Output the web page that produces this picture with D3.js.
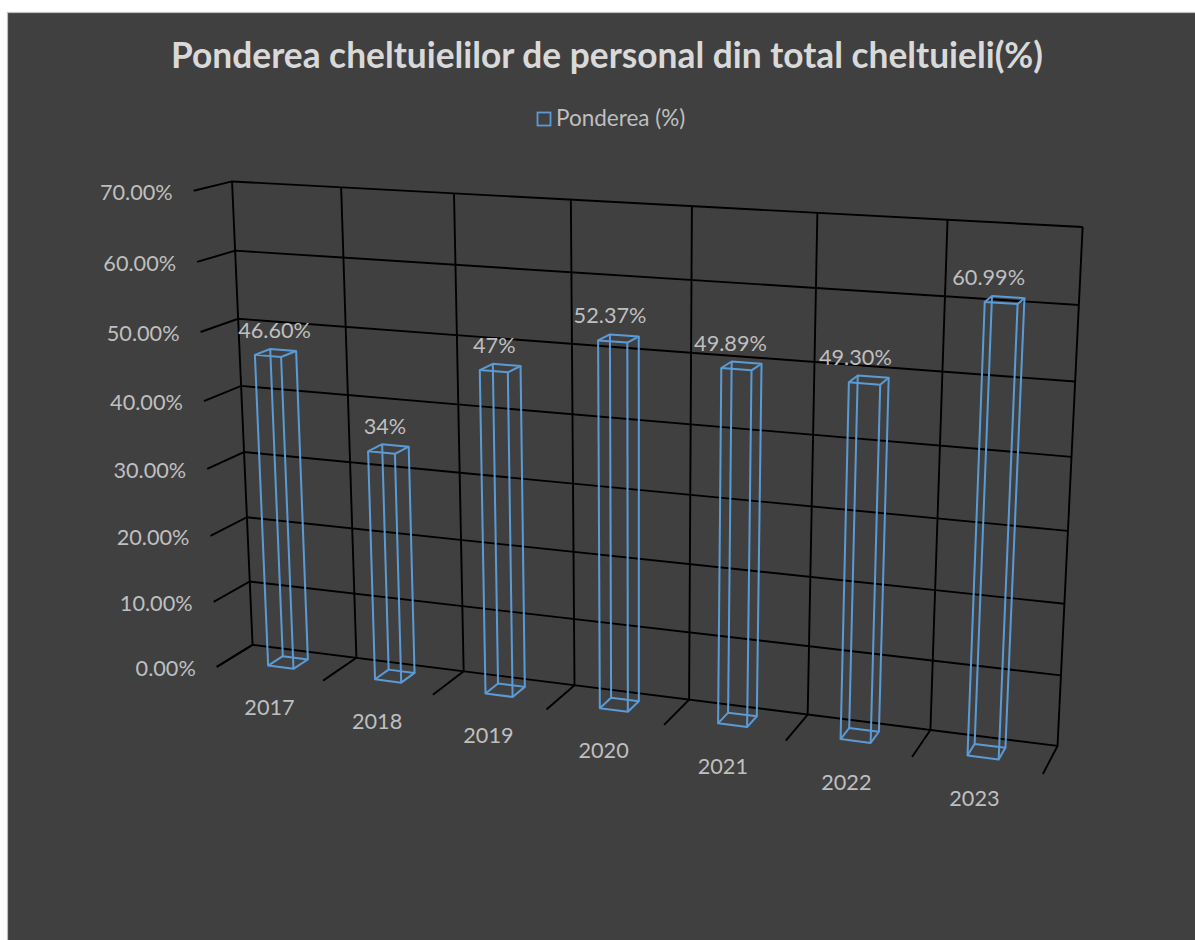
<!DOCTYPE html>
<html><head><meta charset="utf-8">
<script src="https://cdn.jsdelivr.net/npm/d3@7"></script>
<style>html,body{margin:0;padding:0;background:#fff;overflow:hidden}svg{display:block}text{font-family:Lato,"Open Sans",sans-serif}</style>
</head><body><svg id="c" width="1195" height="940"></svg>
<script>
const categories = ["2017","2018","2019","2020","2021","2022","2023"];
const values = [46.60,34,47,52.37,49.89,49.30,60.99];
const valueLabels = ["46.60%","34%","47%","52.37%","49.89%","49.30%","60.99%"];
const yTicks = [0,10,20,30,40,50,60,70];
const yTickLabels = ["0.00%","10.00%","20.00%","30.00%","40.00%","50.00%","60.00%","70.00%"];
const seriesName = "Ponderea (%)";
const titleText = "Ponderea cheltuielilor de personal din total cheltuieli(%)";

// camera calibration: [slot index, value, depth, screen x, screen y]
const calibration = [
 [0,70,0,232,181],[1,70,0,341,187],[2,70,0,454,194],[3,70,0,571,200],[4,70,0,693,207],[5,70,0,818,214],[6,70,0,947,219],[7,70,0,1082,225],
 [0,0,0,252.7,644],[1,0,0,356,657.7],[2,0,0,463,671],[3,0,0,574,686],[4,0,0,691,700],[5,0,0,807,715],[6,0,0,931,730],[7,0,0,1056.7,746],
 [0,70,1,193,191],[0,60,1,197,262],[0,50,1,201,332],[0,40,1,204,401],[0,0,1,217,667],
 [1,0,1,323,680],[2,0,1,433,695],[6,0,1,912,757],[7,0,1,1043,774]
];

function solve(A,b){const n=b.length;A=A.map((r,i)=>[...r,b[i]]);
 for(let i=0;i<n;i++){let m=i;for(let k=i+1;k<n;k++)if(Math.abs(A[k][i])>Math.abs(A[m][i]))m=k;
  [A[i],A[m]]=[A[m],A[i]];
  for(let k=0;k<n;k++){if(k===i)continue;const f=A[k][i]/A[i][i];for(let j=i;j<=n;j++)A[k][j]-=f*A[i][j];}}
 return A.map((r,i)=>r[n]/r[i]);}
function fitCamera(pts){const N=Array.from({length:11},()=>Array(11).fill(0)),R=Array(11).fill(0);
 const add=(row,t)=>{for(let i=0;i<11;i++){R[i]+=row[i]*t;for(let j=0;j<11;j++)N[i][j]+=row[i]*row[j];}};
 pts.forEach(([a,b,c,sx,sy])=>{const x=a/7,y=b/70,z=c,u=sx/1000,v=sy/1000;
  add([x,y,z,1,0,0,0,0,-u*x,-u*y,-u*z],u);
  add([0,0,0,0,x,y,z,1,-v*x,-v*y,-v*z],v);});
 return solve(N,R);}
const P = fitCamera(calibration);
function project(x,y,z){const w=P[8]*x+P[9]*y+P[10]*z+1;
 return [1000*(P[0]*x+P[1]*y+P[2]*z+P[3])/w,1000*(P[4]*x+P[5]*y+P[6]*z+P[7])/w];}

const xSlot = d3.scaleBand().domain(categories).range([0,1]);
const yVal = d3.scaleLinear().domain([0,70]).range([0,1]);
const barLeft = 0.39, barRight = 0.63, depthInset = 0.29;
const pt = (x,v,z)=>project(x,yVal(v),z);
const line = d3.line();

const svg = d3.select("#c");
svg.append("rect").attr("x",7.5).attr("y",12.5).attr("width",1300).attr("height",1100)
  .attr("fill","#404040").attr("stroke","#bfbfbf").attr("stroke-width",1.2);

svg.append("text").attr("x",607).attr("y",68).attr("text-anchor","middle")
  .attr("font-size",35.3).attr("font-weight",700).attr("fill","#d9d9d9").text(titleText);

// legend
svg.append("rect").attr("x",537.5).attr("y",112.5).attr("width",13).attr("height",13)
  .attr("fill","none").attr("stroke","#5b9bd5").attr("stroke-width",1.8);
svg.append("text").attr("x",556).attr("y",126).attr("font-size",22.5).attr("fill","#bfbfbf").text(seriesName);

// grid
const slotEdges = d3.range(categories.length+1).map(i=>i/categories.length);
const grid = svg.append("g").attr("fill","none").attr("stroke","#000").attr("stroke-width",1.9);
yTicks.forEach(t=>{
  grid.append("path").attr("d",line([pt(0,t,1),pt(0,t,0),pt(1,t,0)]));
});
slotEdges.forEach(x=>{
  grid.append("path").attr("d",line([pt(x,0,1),pt(x,0,0),pt(x,70,0)]));
});

// axis labels
const tickG = svg.append("g").attr("font-size",21.7).attr("fill","#bfbfbf");
yTicks.forEach((t,i)=>{
  const p = pt(0,t,1);
  tickG.append("text").attr("x",p[0]-21).attr("y",p[1]+9).attr("text-anchor","end").text(yTickLabels[i]);
});
categories.forEach((c,i)=>{
  const p = pt(xSlot(c)+xSlot.bandwidth()/2,0,1);
  tickG.append("text").attr("x",p[0]-i*0.4).attr("y",p[1]+41).attr("text-anchor","middle").text(c);
});

// bars
const barG = svg.append("g").attr("fill","none").attr("stroke","#5b9bd5").attr("stroke-width",2).attr("stroke-linejoin","round");
categories.forEach((c,i)=>{
  const x0 = xSlot(c)+barLeft*xSlot.bandwidth(), x1 = xSlot(c)+barRight*xSlot.bandwidth();
  const z0 = depthInset, z1 = 1-depthInset, v = values[i];
  const ring = h=>[pt(x0,h,z1),pt(x1,h,z1),pt(x1,h,z0),pt(x0,h,z0)];
  barG.append("path").attr("d",line(ring(0))+"Z");
  barG.append("path").attr("d",line(ring(v))+"Z");
  [[x0,z1],[x1,z1],[x1,z0],[x0,z0]].forEach(([x,z])=>{
    barG.append("path").attr("d",line([pt(x,0,z),pt(x,v,z)]));
  });
  const top = pt((x0+x1)/2,v,0.5);
  tickG.append("text").attr("x",top[0]-1-i*2.5).attr("y",top[1]-15).attr("text-anchor","middle").text(valueLabels[i]);
});
</script></body></html>
